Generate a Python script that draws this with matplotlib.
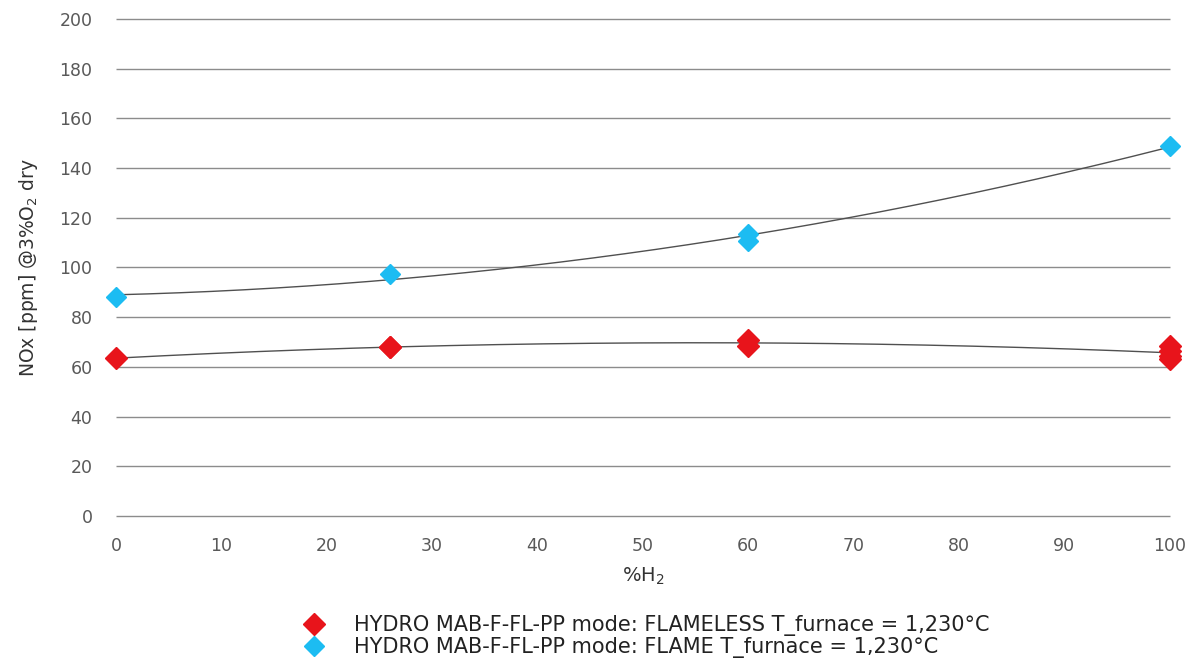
import matplotlib.pyplot as plt
import numpy as np

plt.rcParams['font.family'] = ['DejaVu Sans']

# flameless mode (red)
x_flameless = [0, 26, 26, 60, 60, 100, 100, 100, 100]
y_flameless = [63.5, 68, 68, 70.8, 68.5, 68.5, 66.5, 64.5, 63.2]

# flame mode (blue)
x_flame = [0, 26, 60, 60, 100]
y_flame = [88, 97.5, 113.5, 110.5, 149]

labels = ['HYDRO MAB-F-FL-PP mode: FLAMELESS T_furnace = 1,230°C',
          'HYDRO MAB-F-FL-PP mode: FLAME T_furnace = 1,230°C']

yticks = list(range(0, 201, 20))
xticks = list(range(0, 101, 10))

red = '#e8141b'
blue = '#1cbcf2'
text_col = '#333333'

fig = plt.figure(figsize=(12, 6.65), dpi=100)
ax = fig.add_axes([0.0967, 0.224, 0.878, 0.7475])

# horizontal gridlines (drawn by hand so the one at 0 is not clipped)
ax.hlines(yticks, 0, 100, color='#8c8c8c', lw=1.0, zorder=1, clip_on=False)

# polynomial trendlines (order 2), like the spreadsheet ones
xs = np.linspace(0, 100, 200)
for xv, yv in [(x_flameless, y_flameless), (x_flame, y_flame)]:
    c = np.polyfit(xv, yv, 2)
    ax.plot(xs, np.polyval(c, xs), color='#505050', lw=1.0, zorder=2)

ax.plot(x_flameless, y_flameless, 'D', color=red, ms=11, ls='none',
        label=labels[0], clip_on=False, zorder=3)
ax.plot(x_flame, y_flame, 'D', color=blue, ms=10.5, ls='none',
        label=labels[1], clip_on=False, zorder=3)

ax.set_xlim(0, 100)
ax.set_ylim(0, 200)
ax.set_xticks(xticks)
ax.set_yticks(yticks)
for s in ax.spines.values():
    s.set_visible(False)
ax.tick_params(length=0, labelsize=12.5, labelcolor='#595959')
ax.tick_params(axis='x', pad=15)
ax.tick_params(axis='y', pad=17)

ax.set_xlabel('%H$_2$', fontsize=14, color=text_col, labelpad=8)
ax.set_ylabel('NOx [ppm] @3%O$_2$ dry', fontsize=13.5, color=text_col, labelpad=14)

fig.legend(loc='center left', bbox_to_anchor=(0.246, 0.043), frameon=False,
           fontsize=15, labelcolor='#222222', handlelength=1.0,
           handletextpad=1.4, labelspacing=0.05, borderaxespad=0)

fig.savefig('out.png', dpi=100)
